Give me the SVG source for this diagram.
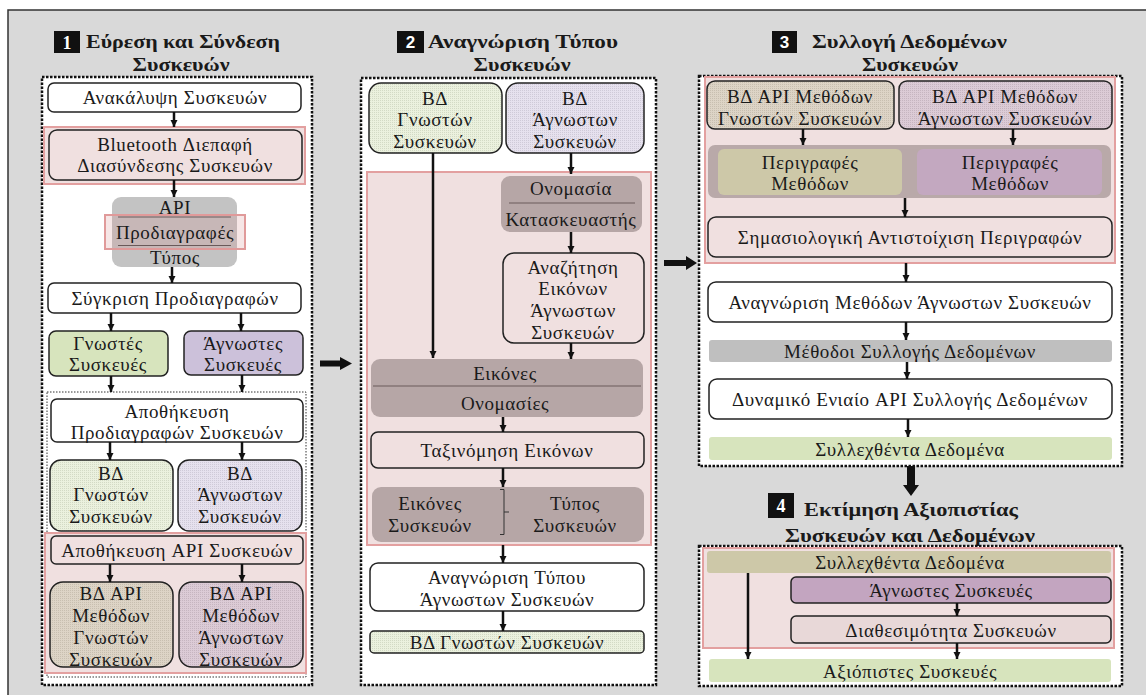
<svg xmlns="http://www.w3.org/2000/svg" width="1146" height="695" viewBox="0 0 1146 695">
<defs>
<style>
text{font-family:"Liberation Serif","DejaVu Serif",serif;font-size:19px;letter-spacing:0.6px;fill:#1a1a1a;text-anchor:middle;dominant-baseline:central}
.ttl{font-weight:bold;font-size:19.5px;letter-spacing:0;text-anchor:start}
.ttlc{font-weight:bold;font-size:19.5px;letter-spacing:0}
.num{font-weight:bold;font-size:18px;letter-spacing:0;fill:#fff}
.nums{font-family:"Liberation Sans",Arial,sans-serif;font-weight:bold;font-size:17px;letter-spacing:0;fill:#fff}
.box{stroke:#222;stroke-width:1.5}
.white{fill:#fff}
.pinkbox{fill:#f0e0e0}
.hl{fill:#f0e0e0;stroke:#e3a0a0;stroke-width:2}
.dot{fill:#fff;stroke:#111;stroke-width:2.5;stroke-dasharray:2.5 1.5}
.dotthin{fill:none;stroke:#333;stroke-width:1;stroke-dasharray:1.5 1.5}
.gray{fill:#c3c3c3}
.mauve{fill:#b6a6a6}
.sep{stroke:#6a5a5a;stroke-width:1}
.conn{stroke:#111;stroke-width:2.5;fill:none;marker-end:url(#ah)}
.big{fill:#111}
</style>
<marker id="ah" markerUnits="userSpaceOnUse" markerWidth="8" markerHeight="8" refX="7" refY="4" orient="auto">
<path d="M0,0.5 L7,4 L0,7.5 z" fill="#111"/>
</marker>
<pattern id="pG" width="2" height="2" patternUnits="userSpaceOnUse"><rect width="2" height="2" fill="#ebf1de"/><rect width="1" height="1" fill="#d3dac5"/></pattern>
<pattern id="pL" width="2" height="2" patternUnits="userSpaceOnUse"><rect width="2" height="2" fill="#e6e1ee"/><rect width="1" height="1" fill="#cfcad8"/></pattern>
<pattern id="pT" width="2" height="2" patternUnits="userSpaceOnUse"><rect width="2" height="2" fill="#ddd4c6"/><rect width="1" height="1" fill="#c8bfb0"/></pattern>
<pattern id="pP" width="2" height="2" patternUnits="userSpaceOnUse"><rect width="2" height="2" fill="#dccbd6"/><rect width="1" height="1" fill="#c6b5c0"/></pattern>
</defs>

<rect x="8" y="10" width="1150" height="700" fill="#d9d9d9" stroke="#333" stroke-width="1.5"/>

<!-- Titles -->
<g id="title1">
<rect x="54" y="31" width="26" height="22" fill="#111"/>
<text class="num" x="67" y="42.5">1</text>
<text class="ttl" x="86" y="41.5" textLength="194" lengthAdjust="spacingAndGlyphs">Εύρεση και Σύνδεση</text>
<text class="ttlc" x="181" y="64" textLength="97" lengthAdjust="spacingAndGlyphs">Συσκευών</text>
</g>
<g id="title2">
<rect x="397" y="31" width="27" height="22" fill="#111"/>
<text class="nums" x="410.5" y="42.5">2</text>
<text class="ttl" x="428" y="41.5" textLength="190" lengthAdjust="spacingAndGlyphs">Αναγνώριση Τύπου</text>
<text class="ttlc" x="522" y="64" textLength="97" lengthAdjust="spacingAndGlyphs">Συσκευών</text>
</g>
<g id="title3">
<rect x="772" y="31" width="25" height="22" fill="#111"/>
<text class="nums" x="784.5" y="42.5">3</text>
<text class="ttl" x="812" y="41.5" textLength="195" lengthAdjust="spacingAndGlyphs">Συλλογή Δεδομένων</text>
<text class="ttlc" x="910" y="64" textLength="96" lengthAdjust="spacingAndGlyphs">Συσκευών</text>
</g>
<g id="title4">
<rect x="768" y="493" width="26" height="25" fill="#111"/>
<text class="num" x="781" y="505.5">4</text>
<text class="ttl" x="804" y="509" textLength="214" lengthAdjust="spacingAndGlyphs">Εκτίμηση Αξιοπιστίας</text>
<text class="ttlc" x="910" y="535" textLength="250" lengthAdjust="spacingAndGlyphs">Συσκευών και Δεδομένων</text>
</g>

<!-- Stage containers -->
<g id="stage1">
<rect class="dot" x="42" y="77" width="270" height="608"/>
<rect class="hl" x="44" y="127" width="261" height="57"/>
<rect class="dotthin" x="47" y="392" width="259" height="285"/>
<rect class="hl" x="45" y="533" width="261" height="140"/>
</g>
<g id="stage2">
<rect class="dot" x="361" y="78" width="295" height="607"/>
<rect class="hl" x="367" y="172" width="284" height="373"/>
</g>
<g id="stage3">
<rect class="dot" x="699" y="76" width="423" height="390"/>
<rect class="hl" x="705" y="77" width="410" height="186"/>
</g>
<g id="stage4">
<rect class="dot" x="699" y="546" width="423" height="140"/>
<rect class="hl" x="703" y="548" width="411" height="100"/>
</g>

<!-- Stage 1 nodes -->
<g id="discovery">
<rect class="box white" x="48" y="83" width="253" height="29" rx="6"/>
<text x="175" y="97.5">Ανακάλυψη Συσκευών</text>
</g>
<g id="bluetooth">
<rect class="box pinkbox" x="49" y="130" width="253" height="50" rx="8"/>
<text x="175" y="144">Bluetooth Διεπαφή</text>
<text x="175" y="165">Διασύνδεσης Συσκευών</text>
</g>
<g id="api-spec">
<rect class="gray" x="112" y="197" width="125" height="70" rx="9"/>
<rect x="105" y="215" width="140" height="34" fill="#d88c8c" fill-opacity="0.22" stroke="#e09a9a" stroke-width="2"/>
<text x="175" y="207.5">API</text>
<line class="sep" x1="118" y1="217" x2="231" y2="217"/>
<text x="175" y="232">Προδιαγραφές</text>
<line class="sep" x1="118" y1="245.5" x2="231" y2="245.5"/>
<text x="175" y="257">Τύπος</text>
</g>
<g id="compare">
<rect class="box white" x="48" y="283" width="253" height="30" rx="6"/>
<text x="175" y="298">Σύγκριση Προδιαγραφών</text>
</g>
<g id="known">
<rect class="box" fill="#d7e4bd" x="49" y="331" width="119" height="45" rx="7"/>
<text x="108" y="343">Γνωστές</text>
<text x="108" y="364">Συσκευές</text>
</g>
<g id="unknown">
<rect class="box" fill="#ccc1da" x="184" y="331" width="119" height="44" rx="7"/>
<text x="243" y="343">Άγνωστες</text>
<text x="243" y="364">Συσκευές</text>
</g>
<g id="store-spec">
<rect class="box white" x="51" y="399" width="252" height="43" rx="6"/>
<text x="177" y="411">Αποθήκευση</text>
<text x="177" y="432">Προδιαγραφών Συσκευών</text>
</g>
<g id="db-known-1">
<rect class="box" fill="url(#pG)" x="50" y="460" width="123" height="71" rx="11"/>
<text x="111" y="473">ΒΔ</text>
<text x="111" y="494">Γνωστών</text>
<text x="111" y="516">Συσκευών</text>
</g>
<g id="db-unknown-1">
<rect class="box" fill="url(#pL)" x="178" y="460" width="124" height="71" rx="11"/>
<text x="240" y="473">ΒΔ</text>
<text x="240" y="494">Άγνωστων</text>
<text x="240" y="516">Συσκευών</text>
</g>
<g id="store-api">
<rect class="box pinkbox" x="51" y="536" width="252" height="28" rx="5"/>
<text x="177" y="550">Αποθήκευση API Συσκευών</text>
</g>
<g id="db-api-known-1">
<rect class="box" fill="url(#pT)" x="50" y="582" width="123" height="85" rx="13"/>
<text x="111" y="593">ΒΔ API</text>
<text x="111" y="615">Μεθόδων</text>
<text x="111" y="637">Γνωστών</text>
<text x="111" y="659">Συσκευών</text>
</g>
<g id="db-api-unknown-1">
<rect class="box" fill="url(#pP)" x="179" y="582" width="124" height="85" rx="13"/>
<text x="241" y="593">ΒΔ API</text>
<text x="241" y="615">Μεθόδων</text>
<text x="241" y="637">Άγνωστων</text>
<text x="241" y="659">Συσκευών</text>
</g>

<!-- Stage 2 nodes -->
<g id="db-known-2">
<rect class="box" fill="url(#pG)" x="369" y="83" width="133" height="70" rx="12"/>
<text x="435" y="98">ΒΔ</text>
<text x="435" y="119">Γνωστών</text>
<text x="435" y="141">Συσκευών</text>
</g>
<g id="db-unknown-2">
<rect class="box" fill="url(#pL)" x="506" y="83" width="138" height="70" rx="12"/>
<text x="575" y="98">ΒΔ</text>
<text x="575" y="119">Άγνωστων</text>
<text x="575" y="141">Συσκευών</text>
</g>
<g id="name-manuf">
<rect class="mauve" x="501" y="176" width="141" height="56" rx="9"/>
<text x="571" y="188">Ονομασία</text>
<line class="sep" x1="509" y1="203" x2="635" y2="203"/>
<text x="571" y="219">Κατασκευαστής</text>
</g>
<g id="image-search">
<rect class="box pinkbox" x="503" y="253" width="141" height="90" rx="11"/>
<text x="573" y="267">Αναζήτηση</text>
<text x="573" y="288">Εικόνων</text>
<text x="573" y="310">Άγνωστων</text>
<text x="573" y="332">Συσκευών</text>
</g>
<g id="images-names">
<rect class="mauve" x="371" y="359" width="272" height="58" rx="9"/>
<text x="505" y="373">Εικόνες</text>
<line class="sep" x1="373" y1="386" x2="641" y2="386"/>
<text x="505" y="403">Ονομασίες</text>
</g>
<g id="classify">
<rect class="box pinkbox" x="371" y="432" width="273" height="36" rx="7"/>
<text x="507" y="450">Ταξινόμηση Εικόνων</text>
</g>
<g id="images-type">
<rect class="mauve" x="372" y="487" width="272" height="55" rx="9"/>
<text x="430" y="503">Εικόνες</text>
<text x="430" y="525">Συσκευών</text>
<path d="M500,489.5 H504 V534.5 H500 M504,512 H509" fill="none" stroke="#333" stroke-width="1"/>
<text x="575" y="503">Τύπος</text>
<text x="575" y="525">Συσκευών</text>
</g>
<g id="type-recog">
<rect class="box white" x="370" y="563" width="274" height="48" rx="8"/>
<text x="507" y="577">Αναγνώριση Τύπου</text>
<text x="507" y="599">Άγνωστων Συσκευών</text>
</g>
<g id="db-known-3">
<rect class="box" fill="url(#pG)" x="370" y="631" width="274" height="22" rx="4"/>
<text x="507" y="642">ΒΔ Γνωστών Συσκευών</text>
</g>

<!-- Stage 3 nodes -->
<g id="db-api-known-3">
<rect class="box" fill="url(#pT)" x="707" y="81" width="187" height="48" rx="8"/>
<text x="800" y="96">ΒΔ API Μεθόδων</text>
<text x="800" y="118">Γνωστών Συσκευών</text>
</g>
<g id="db-api-unknown-3">
<rect class="box" fill="url(#pP)" x="899" y="81" width="213" height="48" rx="8"/>
<text x="1005" y="96">ΒΔ API Μεθόδων</text>
<text x="1005" y="118">Άγνωστων Συσκευών</text>
</g>
<g id="descriptions">
<rect fill="#b9a9a9" x="708" y="145" width="403" height="53" rx="7"/>
<rect fill="#cdc8a8" x="718" y="149" width="184" height="46" rx="6"/>
<text x="810" y="162">Περιγραφές</text>
<text x="810" y="183">Μεθόδων</text>
<rect fill="#c3a8c0" x="917" y="149" width="185" height="46" rx="6"/>
<text x="1010" y="162">Περιγραφές</text>
<text x="1010" y="183">Μεθόδων</text>
</g>
<g id="semantic">
<rect class="box pinkbox" x="708" y="217" width="404" height="40" rx="8"/>
<text x="910" y="237">Σημασιολογική Αντιστοίχιση Περιγραφών</text>
</g>
<g id="method-recog">
<rect class="box white" x="708" y="282" width="404" height="40" rx="8"/>
<text x="910" y="302">Αναγνώριση Μεθόδων Άγνωστων Συσκευών</text>
</g>
<g id="collect-methods">
<rect fill="#bfbfbf" x="709" y="340" width="403" height="22" rx="3"/>
<text x="910" y="351">Μέθοδοι Συλλογής Δεδομένων</text>
</g>
<g id="unified-api">
<rect class="box white" x="709" y="379" width="403" height="40" rx="8"/>
<text x="910" y="399">Δυναμικό Ενιαίο API Συλλογής Δεδομένων</text>
</g>
<g id="collected-3">
<rect fill="#d7e4bd" x="709" y="437" width="403" height="23" rx="3"/>
<text x="910" y="449">Συλλεχθέντα Δεδομένα</text>
</g>

<!-- Stage 4 nodes -->
<g id="collected-4">
<rect fill="#cdc8a8" x="707" y="551" width="404" height="22" rx="3"/>
<text x="910" y="562">Συλλεχθέντα Δεδομένα</text>
</g>
<g id="unknown-4">
<rect class="box" fill="#c3a5c0" x="791" y="577" width="320" height="26" rx="5"/>
<text x="951" y="590">Άγνωστες Συσκευές</text>
</g>
<g id="availability">
<rect class="box" fill="#e8d8d8" x="791" y="616" width="320" height="27" rx="5"/>
<text x="951" y="630">Διαθεσιμότητα Συσκευών</text>
</g>
<g id="reliable">
<rect fill="#d7e4bd" x="709" y="659" width="402" height="23" rx="3"/>
<text x="910" y="671">Αξιόπιστες Συσκευές</text>
</g>

<!-- Connectors -->
<g id="connectors">
<line class="conn" x1="174" y1="112" x2="174" y2="127"/>
<line class="conn" x1="174" y1="180" x2="174" y2="197"/>
<line class="conn" x1="172" y1="267" x2="172" y2="283"/>
<line class="conn" x1="111" y1="313" x2="111" y2="331"/>
<line class="conn" x1="241" y1="313" x2="241" y2="331"/>
<line class="conn" x1="111" y1="376" x2="111" y2="392"/>
<line class="conn" x1="242" y1="375" x2="242" y2="392"/>
<line class="conn" x1="110" y1="442" x2="110" y2="460"/>
<line class="conn" x1="242" y1="442" x2="242" y2="460"/>
<line class="conn" x1="110" y1="564" x2="110" y2="582"/>
<line class="conn" x1="242" y1="564" x2="242" y2="582"/>

<line class="conn" x1="433" y1="153" x2="433" y2="358"/>
<line class="conn" x1="571" y1="153" x2="571" y2="174"/>
<line class="conn" x1="571" y1="232" x2="571" y2="253"/>
<line class="conn" x1="571" y1="343" x2="571" y2="359"/>
<line class="conn" x1="503" y1="417" x2="503" y2="432"/>
<line class="conn" x1="503" y1="468" x2="503" y2="487"/>
<line class="conn" x1="503" y1="545" x2="503" y2="563"/>
<line class="conn" x1="503" y1="611" x2="503" y2="631"/>

<line class="conn" x1="803" y1="129" x2="803" y2="145"/>
<line class="conn" x1="1013" y1="129" x2="1013" y2="145"/>
<line class="conn" x1="905" y1="198" x2="905" y2="217"/>
<line class="conn" x1="906" y1="263" x2="906" y2="282"/>
<line class="conn" x1="906" y1="322" x2="906" y2="340"/>
<line class="conn" x1="907" y1="362" x2="907" y2="379"/>
<line class="conn" x1="908" y1="419" x2="908" y2="437"/>

<line class="conn" x1="957" y1="603" x2="957" y2="616"/>
<line class="conn" x1="957" y1="643" x2="957" y2="659"/>
<line class="conn" x1="748" y1="573" x2="748" y2="659"/>

<polygon class="big" points="320,360.5 340,360.5 340,357 352,363.5 340,370 340,366.5 320,366.5"/>
<polygon class="big" points="664,260 686,260 686,256 697,263 686,270 686,266 664,266"/>
<polygon class="big" points="907,466 915,466 915,485 919,485 911,496 903,485 907,485"/>
</g>
</svg>
